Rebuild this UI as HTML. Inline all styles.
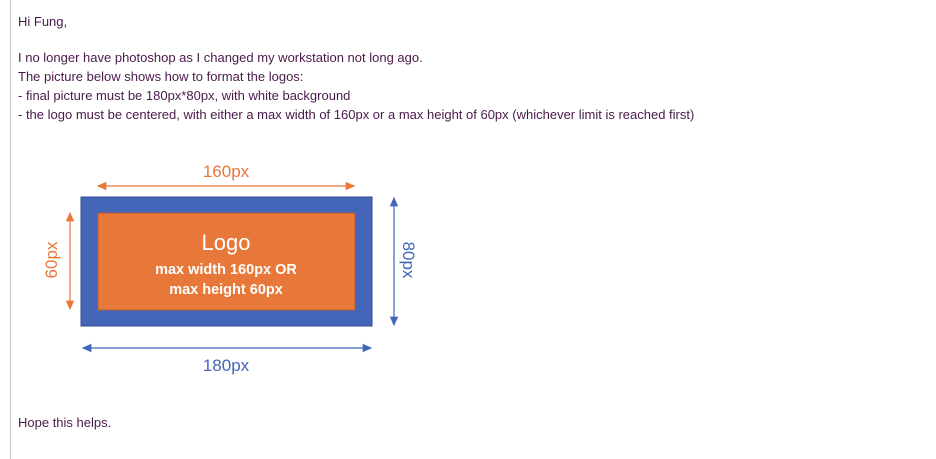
<!DOCTYPE html>
<html><head><meta charset="utf-8"><style>
body{margin:0;width:936px;height:459px;background:#fff;overflow:hidden;position:relative;font-family:"Liberation Sans",Arial,sans-serif;}
.bar{position:absolute;left:10px;top:0;width:1px;height:459px;background:#c8c8c8}
.t{position:absolute;left:18px;font-size:13px;color:#4a1a4a;white-space:nowrap}
</style></head><body>
<div class="bar"></div>
<div class="t" style="top:14px">Hi Fung,</div>
<div class="t" style="top:50px">I no longer have photoshop as I changed my workstation not long ago.</div>
<div class="t" style="top:69px">The picture below shows how to format the logos:</div>
<div class="t" style="top:88px">- final picture must be 180px*80px, with white background</div>
<div class="t" style="top:107px">- the logo must be centered, with either a max width of 160px or a max height of 60px (whichever limit is reached first)</div>
<div class="t" style="top:415px">Hope this helps.</div>
<svg width="936" height="459" style="position:absolute;left:0;top:0" font-family="'Liberation Sans',sans-serif">
<defs>
<marker id="ao" markerWidth="8" markerHeight="8" refX="7" refY="4" orient="auto-start-reverse"><path d="M0,0.5L8,4L0,7.5z" fill="#e8773a"/></marker>
<marker id="ab" markerWidth="8" markerHeight="8" refX="7" refY="4" orient="auto-start-reverse"><path d="M0,0.5L8,4L0,7.5z" fill="#4466b8"/></marker>
</defs>
<rect x="81" y="197" width="291" height="129" fill="#4466b8" stroke="#2f4e8f"/>
<rect x="98" y="213" width="257" height="97" fill="#e8773a" stroke="#b85a28" stroke-width="0.8"/>
<text x="226" y="250" text-anchor="middle" font-size="22" fill="#fff">Logo</text>
<text x="226" y="274" text-anchor="middle" font-size="14.5" font-weight="bold" fill="#fff">max width 160px OR</text>
<text x="226" y="294" text-anchor="middle" font-size="14.5" font-weight="bold" fill="#fff">max height 60px</text>
<line x1="98" y1="186" x2="354" y2="186" stroke="#e8773a" stroke-width="1.2" marker-start="url(#ao)" marker-end="url(#ao)"/>
<text x="226" y="177" text-anchor="middle" font-size="17" fill="#e8773a">160px</text>
<line x1="70" y1="213" x2="70" y2="309" stroke="#e8773a" stroke-width="1.2" marker-start="url(#ao)" marker-end="url(#ao)"/>
<text transform="translate(57,260) rotate(-90)" text-anchor="middle" font-size="17" fill="#e8773a">60px</text>
<line x1="394" y1="198" x2="394" y2="325" stroke="#4466b8" stroke-width="1.2" marker-start="url(#ab)" marker-end="url(#ab)"/>
<text transform="translate(403,260) rotate(90)" text-anchor="middle" font-size="17" fill="#4466b8">80px</text>
<line x1="83" y1="348" x2="371" y2="348" stroke="#4466b8" stroke-width="1.2" marker-start="url(#ab)" marker-end="url(#ab)"/>
<text x="226" y="371" text-anchor="middle" font-size="17" fill="#4466b8">180px</text>
</svg>
</body></html>
